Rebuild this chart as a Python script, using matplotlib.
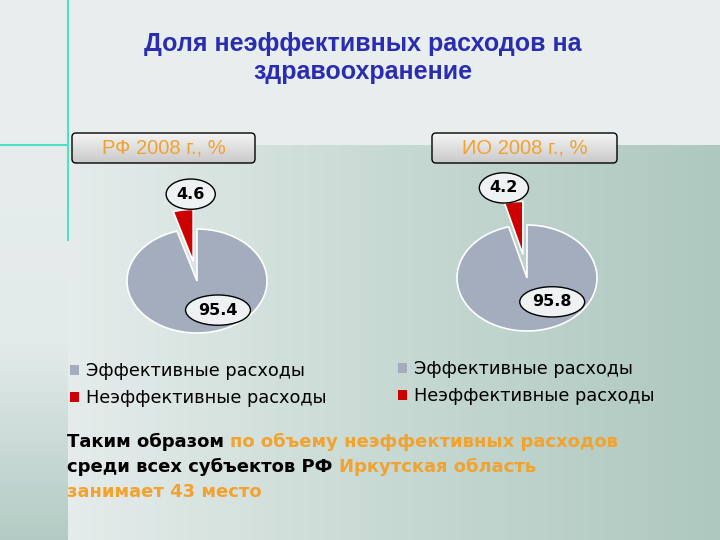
import numpy as np
import matplotlib
matplotlib.use('Agg')
import matplotlib.pyplot as plt
from matplotlib.patches import FancyBboxPatch
from matplotlib.colors import LinearSegmentedColormap

# Data
categories = ['Эффективные расходы', 'Неэффективные расходы']
rf_values = [95.4, 4.6]
io_values = [95.8, 4.2]
pie_titles = ['РФ 2008 г., %', 'ИО 2008 г., %']
title = 'Доля неэффективных расходов на\nздравоохранение'
summary = [
    [('Таким образом ', 'black'), ('по объему неэффективных расходов', 'orange')],
    [('среди всех субъектов РФ ', 'black'), ('Иркутская область', 'orange')],
    [('занимает 43 место', 'orange')],
]

colors = ['#A3ADBD', '#CC0000']
ORANGE = '#F2A22E'
W, H = 720, 540

fig = plt.figure(figsize=(7.2, 5.4), dpi=100, facecolor='#E8EEEE')

# Background in pixel coordinates
bg = fig.add_axes([0, 0, 1, 1], zorder=-10)
bg.set_xlim(0, W)
bg.set_ylim(H, 0)
bg.axis('off')
bg.add_patch(plt.Rectangle((0, 0), W, H, color='#E8EEEE', zorder=0))
main_cmap = LinearSegmentedColormap.from_list('m', ['#E5ECEB', '#C7D9D3', '#AEC8BF'])
bg.imshow(np.linspace(0, 1, 256)[None, :], cmap=main_cmap, aspect='auto',
          extent=(68, W, H, 145), zorder=1)
side_cmap = LinearSegmentedColormap.from_list('s', ['#E6EDEC', '#E3EBEA', '#B3CBC4'])
bg.imshow(np.linspace(0, 1, 256)[:, None], cmap=side_cmap, aspect='auto',
          extent=(0, 68, H, 145), zorder=1)
bg.plot([68, 68], [0, 240], color='#4FE0C6', lw=1.5, zorder=2)
bg.plot([0, 68], [145, 145], color='#4FE0C6', lw=1.5, zorder=2)

bg.text(363, 58, title, ha='center', va='center', fontsize=18, fontweight='bold',
        color='#2B2DB0', family='Liberation Sans', linespacing=1.25, zorder=3)

# header boxes
grad_cmap = LinearSegmentedColormap.from_list('g', ['#F4F4F4', '#C9C9C9'])
for (x0, x1), txt in zip([(72, 255), (432, 617)], pie_titles):
    box = FancyBboxPatch((x0, 133), x1 - x0, 30, boxstyle='round,pad=0,rounding_size=4',
                         facecolor='none', edgecolor='black', lw=1.0, zorder=4)
    bg.add_patch(box)
    im = bg.imshow(np.linspace(0, 1, 64)[:, None], cmap=grad_cmap, aspect='auto',
                   extent=(x0, x1, 163, 133), zorder=3)
    im.set_clip_path(box)
    bg.text((x0 + x1) / 2, 148, txt, ha='center', va='center', fontsize=14.5,
            color=ORANGE, family='Liberation Sans', zorder=5)


def draw_pie(cx, cy, rx, ry, values, explode, label_xy, legend_xy):
    x_lo, x_hi, y_lo, y_hi = -1.6, 1.6, -1.6, 1.9
    left = cx + x_lo * rx
    right = cx + x_hi * rx
    top = cy - y_hi * ry
    bottom = cy - y_lo * ry
    ax = fig.add_axes([left / W, 1 - bottom / H, (right - left) / W, (bottom - top) / H])
    wedges, _ = ax.pie(values, colors=colors, startangle=90, counterclock=False,
                       explode=[0, explode],
                       wedgeprops=dict(edgecolor='white', linewidth=1.2))
    ax.set_aspect('auto')
    ax.set_xlim(x_lo, x_hi)
    ax.set_ylim(y_lo, y_hi)
    ax.axis('off')
    for v, (lx, ly) in zip(values, label_xy):
        ax.text(lx, ly, f'{v:.1f}', ha='center', va='center', fontsize=11.5,
                fontweight='bold', family='DejaVu Sans',
                bbox=dict(boxstyle='ellipse,pad=0.2', fc='#EEF2F2', ec='black', lw=1))
    leg = ax.legend(wedges, categories, loc='upper left',
                    bbox_to_anchor=(legend_xy[0] / W, 1 - legend_xy[1] / H),
                    bbox_transform=fig.transFigure, frameon=False,
                    handlelength=0.5, handleheight=0.5, handletextpad=0.4,
                    borderpad=0, borderaxespad=0, labelspacing=0.5,
                    prop=dict(family='DejaVu Sans', size=12.8))
    for h in leg.legend_handles:
        h.set_edgecolor('none')
    return ax


draw_pie(197, 281, 70, 52, rf_values, 0.38,
         [(0.3, -0.56), (-0.09, 1.67)], (70, 362))
draw_pie(527, 278, 70, 53, io_values, 0.45,
         [(0.36, -0.45), (-0.33, 1.70)], (398, 360))

# summary text, drawn piece by piece
fig.canvas.draw()
y = 442
for line in summary:
    prev = None
    for txt, col in line:
        c = ORANGE if col == 'orange' else 'black'
        if prev is None:
            prev = bg.text(67, y, txt, ha='left', va='center', fontsize=13,
                           fontweight='bold', color=c, family='DejaVu Sans', zorder=5)
        else:
            prev = bg.annotate(txt, xy=(1, 0), xycoords=prev, va='bottom', ha='left',
                               fontsize=13, fontweight='bold', color=c,
                               family='DejaVu Sans', zorder=5)
    y += 25

fig.savefig('out.png', dpi=100, facecolor=fig.get_facecolor())
